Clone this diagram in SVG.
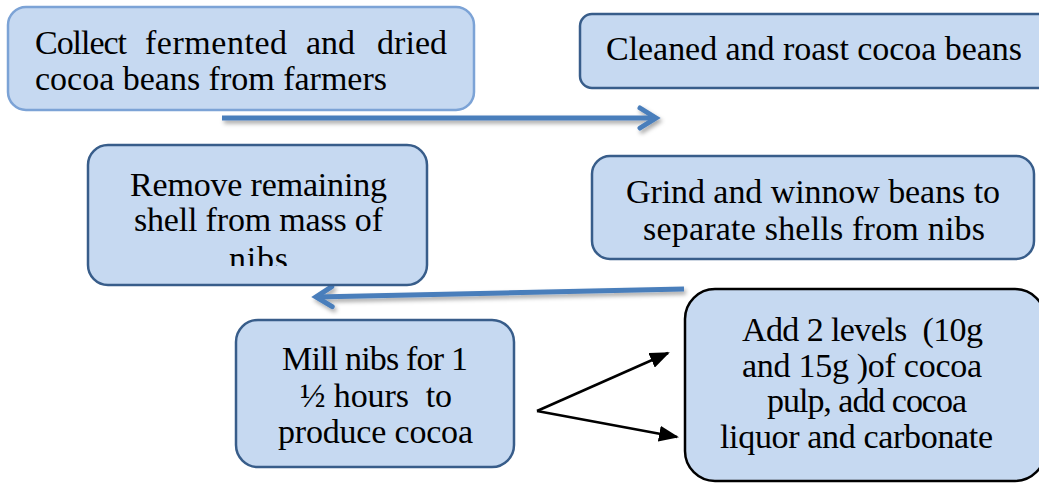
<svg xmlns="http://www.w3.org/2000/svg" width="1039" height="484" viewBox="0 0 1039 484">
<style>
.box{fill:#c6d9f1;stroke:#385d8a;stroke-width:2.5}
.t{font-family:"Liberation Serif","Times New Roman",serif;font-size:34px;fill:#000;white-space:pre}
.blue{stroke:#4a7ebb;stroke-width:5;fill:none}
.blk{stroke:#000;stroke-width:2.5;fill:none}
</style>
<defs>
<marker id="chev" markerUnits="userSpaceOnUse" markerWidth="30" markerHeight="30" refX="20" refY="12" orient="auto" viewBox="0 0 30 24">
<path d="M4,2 L20,12 L4,22" fill="none" stroke="#4a7ebb" stroke-width="5" stroke-linecap="round" stroke-linejoin="miter"/>
</marker>
<marker id="tri" markerUnits="userSpaceOnUse" markerWidth="20" markerHeight="16" refX="18" refY="8" orient="auto" viewBox="0 0 20 16">
<path d="M0,0 L20,8 L0,16 Z" fill="#000"/>
</marker>
<filter id="sh" filterUnits="userSpaceOnUse" x="0" y="0" width="1039" height="484">
<feDropShadow dx="2" dy="3" stdDeviation="2" flood-color="#000" flood-opacity="0.35"/>
</filter>
<clipPath id="clip3"><rect x="88" y="145" width="340" height="121"/></clipPath>
</defs>
<g id="connectors">
<line class="blue" x1="222" y1="118" x2="656" y2="118" marker-end="url(#chev)" filter="url(#sh)"/>
<line class="blue" x1="684" y1="289" x2="316" y2="297" marker-end="url(#chev)" filter="url(#sh)"/>
<line class="blk" x1="537" y1="411" x2="668" y2="353" marker-end="url(#tri)"/>
<line class="blk" x1="537" y1="411" x2="677" y2="437" marker-end="url(#tri)"/>
</g>
<g id="n1">
<rect class="box" x="8" y="7" width="466" height="103" rx="18" style="stroke:#7ca3d6"/>
<text class="t" y="54"><tspan x="35" textLength="92" lengthAdjust="spacing">Collect</tspan><tspan x="145" textLength="142" lengthAdjust="spacing">fermented</tspan><tspan x="306" textLength="49" lengthAdjust="spacing">and</tspan><tspan x="377" textLength="70" lengthAdjust="spacing">dried</tspan></text>
<text class="t" x="35" y="90" textLength="352" lengthAdjust="spacing">cocoa beans from farmers</text>
</g>
<g id="n2">
<rect class="box" x="580" y="14" width="470" height="74" rx="12"/>
<text class="t" x="606" y="60" textLength="416" lengthAdjust="spacing">Cleaned and roast cocoa beans</text>
</g>
<g id="n3">
<rect class="box" x="88" y="145" width="339" height="140" rx="20"/>
<g clip-path="url(#clip3)">
<text class="t" x="130" y="196" textLength="257" lengthAdjust="spacing">Remove remaining</text>
<text class="t" x="134" y="231" textLength="249" lengthAdjust="spacing">shell from mass of</text>
<text class="t" x="229" y="270" textLength="59" lengthAdjust="spacing">nibs</text>
</g>
</g>
<g id="n4">
<rect class="box" x="592" y="156" width="442" height="103" rx="18"/>
<text class="t" x="626" y="203" textLength="374" lengthAdjust="spacing">Grind and winnow beans to</text>
<text class="t" x="643" y="240" textLength="342" lengthAdjust="spacing">separate shells from nibs</text>
</g>
<g id="n5">
<rect class="box" x="236" y="320" width="278" height="147" rx="22"/>
<text class="t" x="282" y="370" textLength="186" lengthAdjust="spacing">Mill nibs for 1</text>
<text class="t" x="300" y="407" textLength="152" lengthAdjust="spacing">½ hours  to</text>
<text class="t" x="278" y="443" textLength="195" lengthAdjust="spacing">produce cocoa</text>
</g>
<g id="n6">
<rect class="box" x="685" y="289" width="360" height="192" rx="30" style="stroke:#000"/>
<text class="t" x="742" y="341" textLength="241" lengthAdjust="spacing">Add 2 levels  (10g</text>
<text class="t" x="742" y="377" textLength="240" lengthAdjust="spacing">and 15g )of cocoa</text>
<text class="t" x="767" y="412" textLength="200" lengthAdjust="spacing">pulp, add cocoa</text>
<text class="t" x="720" y="448" textLength="273" lengthAdjust="spacing">liquor and carbonate</text>
</g>
</svg>
